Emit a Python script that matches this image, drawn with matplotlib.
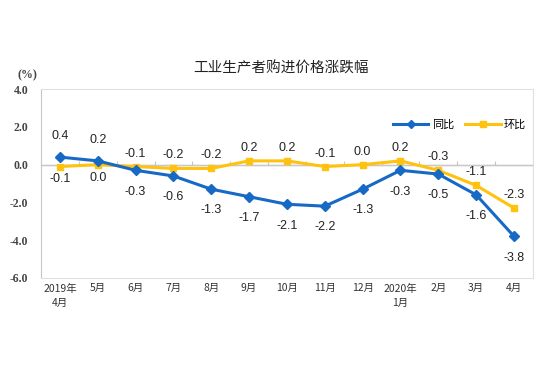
import matplotlib
matplotlib.use("Agg")
import matplotlib.pyplot as plt
import numpy as np

# 月份标签
months = ["2019年\n4月", "5月", "6月", "7月", "8月", "9月", "10月", "11月",
          "12月", "2020年\n1月", "2月", "3月", "4月"]
# 同比
yoy = [0.4, 0.2, -0.3, -0.6, -1.3, -1.7, -2.1, -2.2, -1.3, -0.3, -0.5, -1.6, -3.8]
# 环比
mom = [-0.1, 0.0, -0.1, -0.2, -0.2, 0.2, 0.2, -0.1, 0.0, 0.2, -0.3, -1.1, -2.3]

yoy_above = [True, True] + [False] * 11
mom_above = [False, False] + [True] * 11

BLUE = "#1769C6"
YELLOW = "#FFC20E"
CJK = ["Noto Sans CJK SC", "DejaVu Sans"]

fig = plt.figure(figsize=(5.5, 3.7), dpi=100)
ax = fig.add_axes([0.0745, 0.249, 0.8945, 0.51])
x = np.arange(len(months))

ax.plot(x, yoy, color=BLUE, lw=2.2, marker="D", ms=5, label="同比", zorder=4)
ax.plot(x, mom, color=YELLOW, lw=2.2, marker="s", ms=5, label="环比", zorder=3)

for xi, v, up in zip(x, yoy, yoy_above):
    ax.annotate(f"{v:.1f}", (xi, v), xytext=(0, 11 if up else -11),
                textcoords="offset points", ha="center",
                va="bottom" if up else "top", fontsize=9,
                family="Liberation Sans", color="#222222")
for xi, v, up in zip(x, mom, mom_above):
    ax.annotate(f"{v:.1f}", (xi, v), xytext=(0, 5 if up else -5),
                textcoords="offset points", ha="center",
                va="bottom" if up else "top", fontsize=9,
                family="Liberation Sans", color="#222222")

ax.set_xlim(-0.5, len(months) - 0.5)
ax.set_ylim(-6, 4)
ax.set_yticks(np.arange(-6, 4.1, 2))
ax.set_yticklabels([f"{t:.1f}" for t in np.arange(-6, 4.1, 2)],
                   family="Liberation Serif", fontsize=8.5, fontweight="bold",
                   color="#444444")
ax.tick_params(axis="y", length=0, pad=9)
ax.set_xticks(x)
ax.set_xticklabels(months, family=CJK, fontsize=7.5, color="#333333",
                   linespacing=1.6)
ax.tick_params(axis="x", length=0, pad=4)
for lab in ax.get_xticklabels():
    lab.set_verticalalignment("top")

for s in ["top", "right", "bottom"]:
    ax.spines[s].set_color("#E0E0E0")
ax.spines["left"].set_color("#C8C8C8")

# 零线与刻度
ax.axhline(0, color="#C8C8C8", lw=0.8, zorder=1)
sec = ax.secondary_xaxis(0.6)
sec.set_xticks(np.arange(0.5, len(months) - 1, 1))
sec.set_xticklabels([])
sec.tick_params(length=3, direction="out", color="#C8C8C8")
sec.spines["bottom"].set_visible(False)

leg = ax.legend(loc="center right", ncol=2, frameon=False,
                prop={"family": CJK, "size": 8}, bbox_to_anchor=(1.0, 0.81),
                handlelength=3.2, columnspacing=1.0, handletextpad=0.3,
                borderaxespad=0.2, markerscale=0.8)

fig.text(0.51, 0.815, "工业生产者购进价格涨跌幅", ha="center", va="center",
         family=CJK, fontsize=10.5, color="#222222")
fig.text(0.05, 0.797, "(%)", ha="center", va="center",
         family="Liberation Serif", fontsize=8.5, fontweight="bold",
         color="#444444")

fig.savefig("out.png", dpi=100)
